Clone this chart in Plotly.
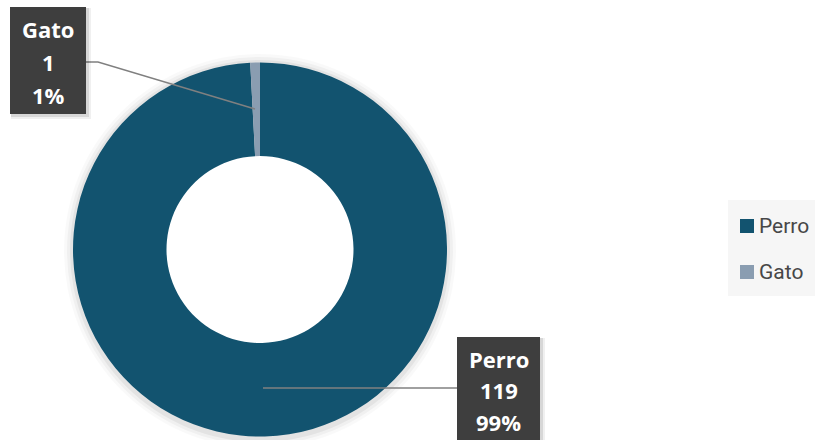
import plotly.graph_objects as go

# data
labels = ["Perro", "Gato"]
values = [119, 1]
colors = ["#12536F", "#8A9DB1"]

W, H = 815, 440
total = sum(values)
pcts = [round(v * 100 / total) for v in values]


def px(x):
    return x / W


def py(y):
    return 1 - y / H


fig = go.Figure()

fig.add_trace(
    go.Pie(
        labels=labels,
        values=values,
        hole=0.5,
        sort=False,
        direction="clockwise",
        rotation=0,
        textinfo="none",
        hoverinfo="label+value+percent",
        marker=dict(colors=colors, line=dict(width=0)),
        domain=dict(x=[px(73), px(447)], y=[py(437), py(62)]),
        showlegend=False,
    )
)

shapes = []
annotations = []

# soft shadow around the ring, hole kept white
for r, a in [(9, 0.025), (6, 0.035), (3, 0.05)]:
    shapes.append(dict(type="circle", xref="paper", yref="paper", layer="below",
                       x0=px(73 - r), x1=px(447 + r), y0=py(439 + r), y1=py(62 - r + 1),
                       fillcolor=f"rgba(0,0,0,{a})", line=dict(width=0)))
shapes.append(dict(type="circle", xref="paper", yref="paper", layer="below",
                   x0=px(164), x1=px(356), y0=py(346), y1=py(153),
                   fillcolor="white", line=dict(width=0)))

# label boxes: (left, top, right, bottom) in pixels, text line centres, leader line
boxes = {
    "Gato": dict(box=(10, 7, 86, 114), rows=[29, 62, 95],
                 line=[(86, 62), (98, 62), (255, 109)]),
    "Perro": dict(box=(457, 337, 540, 444), rows=[359, 390, 422],
                  line=[(263, 388), (457, 388)]),
}

for lab, val, pct in zip(labels, values, pcts):
    b = boxes[lab]
    x0, y0, x1, y1 = b["box"]
    # leader line
    path = "M " + " L ".join(f"{px(x)},{py(y)}" for x, y in b["line"])
    shapes.append(dict(type="path", path=path, xref="paper", yref="paper",
                       line=dict(color="#808080", width=1.5)))
    # soft shadow
    for off, a in [(5, 0.06), (3, 0.1)]:
        shapes.append(dict(type="rect", xref="paper", yref="paper",
                           x0=px(x0 + 1), x1=px(x1 + off), y0=py(y1 + off), y1=py(y0 + 1),
                           fillcolor=f"rgba(0,0,0,{a})", line=dict(width=0)))
    shapes.append(dict(type="rect", xref="paper", yref="paper",
                       x0=px(x0), x1=px(x1), y0=py(y1), y1=py(y0),
                       fillcolor="#3E3E3E", line=dict(width=0)))
    cx = (x0 + x1) / 2
    for yc, txt in zip(b["rows"], [lab, str(val), f"{pct}%"]):
        annotations.append(dict(
            x=px(cx), y=py(yc), xref="paper", yref="paper",
            text=f"<b>{txt}</b>", showarrow=False,
            font=dict(family="Open Sans, sans-serif", size=22, color="white"),
            xanchor="center", yanchor="middle",
        ))

# custom legend
shapes.append(dict(type="rect", xref="paper", yref="paper",
                   x0=px(728), x1=px(815), y0=py(296), y1=py(200),
                   fillcolor="#F6F6F6", line=dict(width=0)))
for i, (lab, col) in enumerate(zip(labels, colors)):
    yc = 226 + i * 46
    shapes.append(dict(type="rect", xref="paper", yref="paper",
                       x0=px(740), x1=px(754), y0=py(yc + 7), y1=py(yc - 7),
                       fillcolor=col, line=dict(width=0)))
    annotations.append(dict(
        x=px(757), y=py(yc), xref="paper", yref="paper",
        text=lab, showarrow=False, xanchor="left", yanchor="middle",
        font=dict(family="Roboto, sans-serif", size=21, color="#474747"),
    ))

fig.update_layout(
    width=W,
    height=H,
    margin=dict(l=0, r=0, t=0, b=0),
    paper_bgcolor="white",
    plot_bgcolor="white",
    shapes=shapes,
    annotations=annotations,
    showlegend=False,
)

fig.write_html("out.html", config={"displayModeBar": False},
               post_script="document.body.style.margin='0';")
